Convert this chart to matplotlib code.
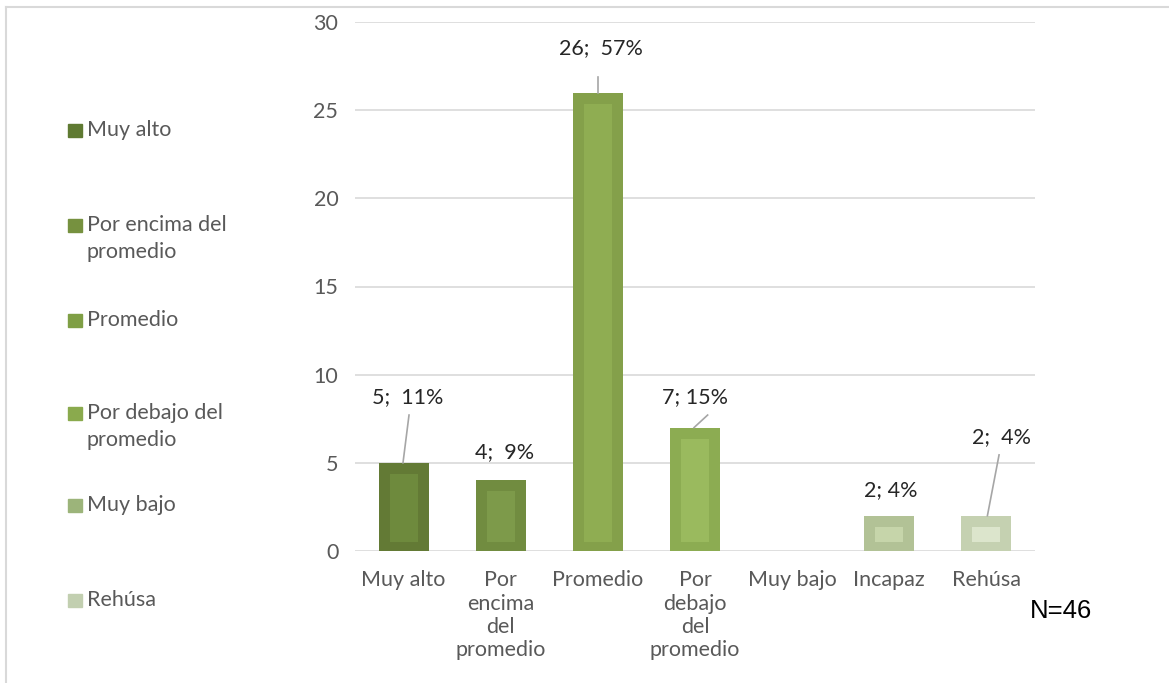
import matplotlib
matplotlib.use("Agg")
import matplotlib.pyplot as plt
from matplotlib.patches import Rectangle
from matplotlib.lines import Line2D

# Data
categories = ["Muy alto", "Por encima del promedio", "Promedio",
              "Por debajo del promedio", "Muy bajo", "Incapaz", "Rehúsa"]
tick_labels = ["Muy alto", "Por\nencima\ndel\npromedio", "Promedio",
               "Por\ndebajo\ndel\npromedio", "Muy bajo", "Incapaz", "Rehúsa"]
counts = [5, 4, 26, 7, 0, 2, 2]
total_n = 46
label_sep = [";  ", ";  ", ";  ", "; ", "; ", "; ", ";  "]
legend_labels = ["Muy alto", "Por encima del\npromedio", "Promedio",
                 "Por debajo del\npromedio", "Muy bajo", "Rehúsa"]

# Styling
outer_colors = ["#637a35", "#718c40", "#84a04a", "#8cac52", "#a3b885", "#b2c296", "#c5d1b1"]
inner_colors = ["#6e8a3d", "#7d9a4a", "#8fad52", "#9aba5e", "#b5c79a", "#c6d5aa", "#dce5cc"]
legend_colors = ["#5f7a32", "#76913f", "#7f9f45", "#8aaa4d", "#9cb47a", "#c2cfb0"]
text_gray = "#595959"
grid_gray = "#d9d9d9"
font = "Lato"
fs = 15.5

W, H = 1169, 683
fig = plt.figure(figsize=(W / 100, H / 100), dpi=100)
ax = fig.add_axes([355 / W, 1 - 551 / H, (1035 - 355) / W, (551 - 22) / H])

x = list(range(len(categories)))
bar_w = 0.515
ax.set_xlim(-0.5, len(categories) - 0.5)
ax.set_ylim(0, 30)

px_per_unit = (551 - 22) / 30.0
top_in = 11 / px_per_unit
bot_in = 9 / px_per_unit

for i, v in enumerate(counts):
    if v <= 0:
        continue
    ax.bar(i, v, width=bar_w, color=outer_colors[i], zorder=3)
    ax.bar(i, v - top_in - bot_in, bottom=bot_in, width=bar_w * 28 / 50,
           color=inner_colors[i], zorder=4)

# Gridlines
ax.set_yticks(range(0, 31, 5))
ax.yaxis.grid(True, color=grid_gray, linewidth=1.2, zorder=0)
ax.set_axisbelow(True)
for s in ax.spines.values():
    s.set_visible(False)
ax.tick_params(axis="both", length=0)
ax.tick_params(axis="y", pad=12, labelcolor=text_gray, labelsize=fs)
ax.set_xticks(x)
ax.set_xticklabels(tick_labels, color=text_gray, fontsize=fs, family=font,
                   linespacing=1.2, va="top")
ax.tick_params(axis="x", pad=14)
for t in ax.get_yticklabels():
    t.set_family(font)

# Data labels (centre positions) and leader lines, in data units relative to each bar
label_pos = [(0.045, 8.73), (0.04, 5.6), (0.03, 28.5), (0.0, 8.73), None, (0.02, 3.46), (0.15, 6.47)]
leaders = [((0.056, 7.71), (-0.006, 5.0)), None, ((0.0, 26.9), (0.0, 26.0)),
           ((0.13, 7.71), (-0.01, 7.0)), None, None, ((0.13, 5.45), (0.01, 2.0))]
for i, v in enumerate(counts):
    if v <= 0 or label_pos[i] is None:
        continue
    pct = round(100 * v / total_n)
    dx, y = label_pos[i]
    ax.text(i + dx, y, f"{v}{label_sep[i]}{pct}%", ha="center", va="center",
            fontsize=fs, family=font, color="#262626", zorder=6)
    if leaders[i] is not None:
        (ax0, ay0), (ax1, ay1) = leaders[i]
        ax.plot([i + ax0, i + ax1], [ay0, ay1], color="#a6a6a6", lw=1.2, zorder=5)

# Legend, stacked on the left
legend_y = [130, 225, 320, 413, 505, 600]
line_step = 27
for lab, col, yy in zip(legend_labels, legend_colors, legend_y):
    fig.patches.append(Rectangle((68 / W, 1 - (yy + 7) / H), 14 / W, 13 / H,
                                 transform=fig.transFigure, color=col))
    for k, line in enumerate(lab.split("\n")):
        fig.text(87 / W, 1 - (yy + k * line_step) / H, line, ha="left", va="center",
                 fontsize=fs, family=font, color=text_gray)

fig.text(1030 / W, 1 - 611 / H, f"N={total_n}", ha="left", va="center",
         fontsize=18.5, family="Liberation Sans", color="#000000")

# Chart frame (top and left edges)
fig.add_artist(Line2D([6 / W, 1], [1 - 7 / H, 1 - 7 / H], transform=fig.transFigure,
                      color=grid_gray, lw=1.5))
fig.add_artist(Line2D([6 / W, 6 / W], [0, 1 - 7 / H], transform=fig.transFigure,
                      color=grid_gray, lw=1.5))

fig.savefig("out.png", dpi=100)
